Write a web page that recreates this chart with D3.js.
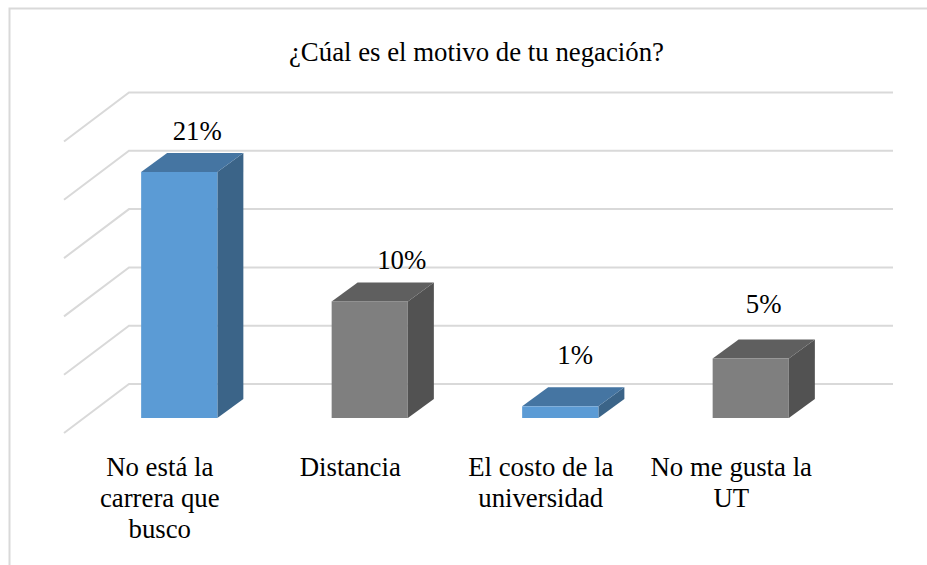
<!DOCTYPE html>
<html>
<head>
<meta charset="utf-8">
<script src="https://cdn.jsdelivr.net/npm/d3@7"></script>
<style>
html,body{margin:0;padding:0;background:#fff;overflow:hidden}
text{font-family:"Liberation Serif",serif;fill:#000}
</style>
</head>
<body>
<svg id="chart" width="927" height="565"></svg>
<script>
// data
const titleText='¿Cúal es el motivo de tu negación?';
const categories=['No está la carrera que busco','Distancia','El costo de la universidad','No me gusta la UT'];
const categoryLines=[['No está la','carrera que','busco'],['Distancia'],['El costo de la','universidad'],['No me gusta la','UT']];
const values=[0.211,0.10,0.01,0.051];
const gridValues=[0,0.05,0.10,0.15,0.20,0.25];

// hand placed labels, relative to the bar
const labelNudge=[[18,-32],[32,-32],[15,-42],[13,-46]];
const palette=[
    {front:'#5b9bd5',top:'#4575a2',side:'#3b6488'},
    {front:'#7f7f7f',top:'#5f5f5f',side:'#525252'}
];
const depth={bar:[26,-19],wallX:65,wallY:49,back:34};
const fontSize='26.8px';

const svg=d3.select('#chart');
const x=d3.scaleBand().domain(categories).range([84,846]).paddingInner(0.6).paddingOuter(0.3);
const y=d3.scaleLinear().domain([0,0.25]).range([418,126.5]);
const pct=d3.format('.0%');

//Cadre
svg.append('path')
    .attr('d','M9.5,565V8.5H927')
    .attr('fill','none').attr('stroke','#d9d9d9').attr('stroke-width',2);

svg.append('text')
    .attr('x',476.5).attr('y',61)
    .attr('text-anchor','middle').style('font-size',fontSize)
    .text(titleText);

//Grille
svg.append('g').selectAll('path').data(gridValues).join('path')
    .attr('d',d=>{
        const gy=y(d)-depth.back;
        return `M${129-depth.wallX},${gy+depth.wallY}L129,${gy}H893`;
    })
    .attr('fill','none').attr('stroke','#d9d9d9').attr('stroke-width',2);

//Barres
const bars=svg.append('g').selectAll('g').data(categories).join('g')
    .attr('transform',d=>`translate(${x(d)},0)`);
const w=x.bandwidth(), [dx,dy]=depth.bar;

bars.append('path')
    .attr('d',(d,i)=>`M${w},${y(values[i])}l${dx},${dy}V${y(0)+dy}l${-dx},${-dy}Z`)
    .attr('fill',(d,i)=>palette[i%2].side);
bars.append('path')
    .attr('d',(d,i)=>`M0,${y(values[i])}l${dx},${dy}h${w}l${-dx},${-dy}Z`)
    .attr('fill',(d,i)=>palette[i%2].top);
bars.append('rect')
    .attr('x',0).attr('width',w)
    .attr('y',(d,i)=>y(values[i]))
    .attr('height',(d,i)=>y(0)-y(values[i]))
    .attr('fill',(d,i)=>palette[i%2].front);

//Etiquettes de valeurs
bars.append('text')
    .attr('x',(d,i)=>w/2+labelNudge[i][0])
    .attr('y',(d,i)=>y(values[i])+labelNudge[i][1])
    .attr('text-anchor','middle').style('font-size',fontSize)
    .text((d,i)=>pct(values[i]));

//Etiquettes de categories
svg.append('g').selectAll('text').data(categories).join('text')
    .attr('text-anchor','middle').style('font-size',fontSize)
    .attr('transform',d=>`translate(${x(d)+x.bandwidth()/2-19.5},475.5)`)
    .selectAll('tspan').data((d,i)=>categoryLines[i]).join('tspan')
    .attr('x',0).attr('y',(d,i)=>i*31)
    .text(d=>d);
</script>
</body>
</html>
